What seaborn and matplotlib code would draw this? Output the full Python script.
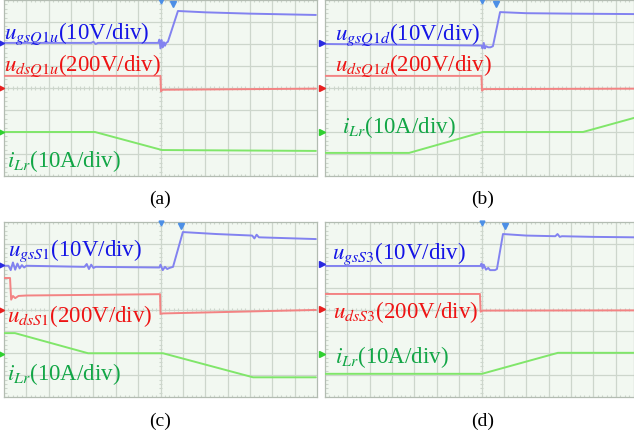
import matplotlib
matplotlib.use("Agg")
import matplotlib.pyplot as plt
import seaborn as sns
import pandas as pd
from matplotlib.collections import LineCollection

# ---- Scope traces, in screen divisions (x: 0..14 time divs, y: 0..8 amplitude divs) ----
# (a) Q1u
a_gs_x = [0, 0.8, 3.9, 4.0, 4.1, 4.2, 6.9, 6.95, 7.0, 7.05, 7.1, 7.15, 7.2, 7.25, 7.33, 7.78, 9.0, 11.0, 13.95]
a_gs_y = [6.05, 6.05, 6.05, 6.1, 6.0, 6.05, 6.05, 6.2, 5.8, 6.18, 5.85, 6.08, 5.92, 6.05, 6.1, 7.5, 7.44, 7.38, 7.32]
a_ds_x = [0, 7.0, 7.02, 7.1, 13.95]
a_ds_y = [4.55, 4.55, 3.85, 3.92, 3.97]
a_lr_x = [0, 4.07, 7.07, 13.95]
a_lr_y = [2.0, 2.0, 1.18, 1.14]

# (b) Q1d
b_gs_x = [0, 7.0, 7.05, 7.1, 7.15, 7.2, 7.3, 7.4, 7.51, 7.83, 9.0, 11.0, 13.82]
b_gs_y = [6.0, 5.93, 5.8, 6.05, 5.8, 5.9, 5.85, 5.85, 5.9, 7.45, 7.4, 7.38, 7.36]
b_ds_x = [0, 7.0, 7.02, 7.1, 13.82]
b_ds_y = [4.55, 4.55, 3.88, 3.95, 3.97]
b_lr_x = [0, 3.76, 7.06, 11.54, 13.82]
b_lr_y = [1.05, 1.05, 2.0, 2.0, 2.64]

# (c) S1
c_gs_x = [0, 0.2, 0.3, 0.4, 0.5, 0.6, 0.7, 0.8, 0.9, 1.0, 3.6, 3.7, 3.8, 3.9, 4.0, 4.1,
          6.95, 7.0, 7.1, 7.2, 7.3, 7.4, 7.56, 8.0, 9.5, 11.1, 11.2, 11.3, 11.4, 13.95]
c_gs_y = [6.0, 6.0, 5.8, 6.15, 5.82, 6.1, 5.88, 6.03, 5.92, 6.0, 5.95, 6.08, 5.85, 6.05, 5.9, 5.95,
          5.92, 6.05, 5.8, 5.95, 5.85, 5.9, 5.95, 7.54, 7.45, 7.38, 7.25, 7.42, 7.3, 7.22]
c_ds_x = [0, 0.27, 0.32, 0.4, 0.5, 0.65, 1.0, 6.98, 7.0, 7.1, 13.95]
c_ds_y = [5.44, 5.44, 4.45, 4.62, 4.52, 4.62, 4.64, 4.7, 3.8, 3.82, 3.98]
c_lr_x = [0, 0.49, 3.76, 7.11, 11.14, 13.95]
c_lr_y = [2.92, 2.92, 2.0, 2.0, 0.9, 0.9]

# (d) S3
d_gs_x = [0, 6.95, 7.0, 7.05, 7.1, 7.2, 7.3, 7.38, 7.6, 7.69, 7.96, 9.0, 10.3, 10.4, 10.5, 10.6, 12.0, 13.82]
d_gs_y = [5.99, 5.99, 6.1, 5.88, 6.05, 5.82, 5.9, 5.8, 5.8, 5.85, 7.45, 7.38, 7.35, 7.45, 7.32, 7.35, 7.32, 7.3]
d_ds_x = [0, 6.93, 6.96, 7.05, 13.82]
d_ds_y = [4.71, 4.71, 3.9, 3.95, 3.96]
d_lr_x = [0, 7.02, 10.42, 13.82]
d_lr_y = [1.06, 1.06, 2.02, 2.02]

# channel reference-level markers (blue, red, green) per panel
ref_a = [6.05, 4.0, 2.0]
ref_b = [6.05, 4.0, 2.0]
ref_c = [6.04, 3.98, 1.96]
ref_d = [6.08, 4.03, 1.98]

# trigger "T" marker position per panel
trig_a, trig_b, trig_c, trig_d = 7.56, 7.65, 7.9, 8.05

captions = ["(a)", "(b)", "(c)", "(d)"]
gs_labels = [r"$u_{gsQ1u}$(10V/div)", r"$u_{gsQ1d}$(10V/div)", r"$u_{gsS1}$(10V/div)", r"$u_{gsS3}$(10V/div)"]
ds_labels = [r"$u_{dsQ1u}$(200V/div)", r"$u_{dsQ1d}$(200V/div)", r"$u_{dsS1}$(200V/div)", r"$u_{dsS3}$(200V/div)"]
lr_label = r"$i_{Lr}$(10A/div)"

# ---- styling ----
sns.set_style("white")
plt.rcParams["font.family"] = ["Liberation Serif", "DejaVu Serif"]
plt.rcParams["mathtext.fontset"] = "stix"

W, H = 634, 440
BG = "#f2f8f1"
GRID = "#cdd6cc"
EDGE = "#b3bcb2"
TR_BLUE, TR_RED, TR_GREEN = "#8282f0", "#f38383", "#80e66a"
TX_BLUE, TX_RED, TX_GREEN = "#1414e6", "#ee1414", "#12a646"
MK_BLUE, MK_RED, MK_GREEN = "#2a2ae0", "#e82020", "#30d030"

fig = plt.figure(figsize=(W / 100, H / 100), dpi=100)
fig.patch.set_facecolor("white")


def px_axes(x0, y0, w, h):
    return fig.add_axes([x0 / W, 1 - (y0 + h) / H, w / W, h / H])


def scope_panel(ax, xmax, traces, refs, trig):
    ax.set_facecolor(BG)
    ax.set_xlim(0, xmax)
    ax.set_ylim(0, 8)
    ax.set_xticks([])
    ax.set_yticks([])
    for s in ax.spines.values():
        s.set_color(EDGE)
        s.set_linewidth(0.9)
    for gx in range(1, 14):
        if gx < xmax:
            ax.axvline(gx, color=GRID, lw=0.9, zorder=1)
    for gy in range(1, 8):
        ax.axhline(gy, color=GRID, lw=0.9, zorder=1)
    # minor ticks on the centre cross and the borders
    segs = []
    k = 0.0
    while k <= xmax:
        segs.append([(k, 3.92), (k, 4.08)])
        segs.append([(k, 0), (k, 0.1)])
        segs.append([(k, 8), (k, 7.9)])
        k += 0.2
    k = 0.0
    while k <= 8:
        segs.append([(7 - 0.08, k), (7 + 0.08, k)])
        segs.append([(0, k), (0.12, k)])
        k += 0.2
    ax.add_collection(LineCollection(segs, colors=GRID, linewidths=0.8, zorder=1))

    for (xs, ys), col in zip(traces, (TR_BLUE, TR_RED, TR_GREEN)):
        df = pd.DataFrame({"t": xs, "v": ys})
        sns.lineplot(data=df, x="t", y="v", ax=ax, color=col, lw=1.4,
                     sort=False, estimator=None, zorder=3)
    ax.set_xlabel("")
    ax.set_ylabel("")
    for yv, col in zip(refs, (MK_BLUE, MK_RED, MK_GREEN)):
        ax.plot([-0.12], [yv], marker=">", ms=4, color=col, clip_on=False, zorder=5)
    ax.plot([7.0], [7.97], marker="v", ms=3.5, color="#4c8fe6", clip_on=False, zorder=5)
    ax.plot([trig], [7.8], marker="v", ms=4, color="#4c8fe6", clip_on=False, zorder=5)


ax_a = px_axes(4, 0, 313, 176)
ax_b = px_axes(325, 0, 309, 176)
ax_c = px_axes(4, 222, 313, 175)
ax_d = px_axes(325, 222, 309, 175)

scope_panel(ax_a, 14.0, [(a_gs_x, a_gs_y), (a_ds_x, a_ds_y), (a_lr_x, a_lr_y)], ref_a, trig_a)
scope_panel(ax_b, 13.82, [(b_gs_x, b_gs_y), (b_ds_x, b_ds_y), (b_lr_x, b_lr_y)], ref_b, trig_b)
scope_panel(ax_c, 14.0, [(c_gs_x, c_gs_y), (c_ds_x, c_ds_y), (c_lr_x, c_lr_y)], ref_c, trig_c)
scope_panel(ax_d, 13.82, [(d_gs_x, d_gs_y), (d_ds_x, d_ds_y), (d_lr_x, d_lr_y)], ref_d, trig_d)


def ftext(x, y, s, color, size=16.5, ha="left"):
    fig.text(x / W, 1 - y / H, s, color=color, fontsize=size, ha=ha, va="baseline")


# trace labels (pixel anchor: left edge, baseline)
ftext(4, 39, gs_labels[0], TX_BLUE)
ftext(4, 72, ds_labels[0], TX_RED)
ftext(7, 167, lr_label, TX_GREEN)

ftext(335, 40, gs_labels[1], TX_BLUE)
ftext(335, 72, ds_labels[1], TX_RED)
ftext(342, 133, lr_label, TX_GREEN)

ftext(8, 256, gs_labels[2], TX_BLUE)
ftext(7, 322, ds_labels[2], TX_RED)
ftext(7, 380, lr_label, TX_GREEN)

ftext(332, 259, gs_labels[3], TX_BLUE)
ftext(333, 318, ds_labels[3], TX_RED)
ftext(335, 363, lr_label, TX_GREEN)

# sub-figure captions
for (cx, cy), cap in zip([(160, 204), (483, 204), (160, 426), (483, 426)], captions):
    ftext(cx, cy, cap, "black", size=14, ha="center")

fig.savefig("out.png", dpi=100)
